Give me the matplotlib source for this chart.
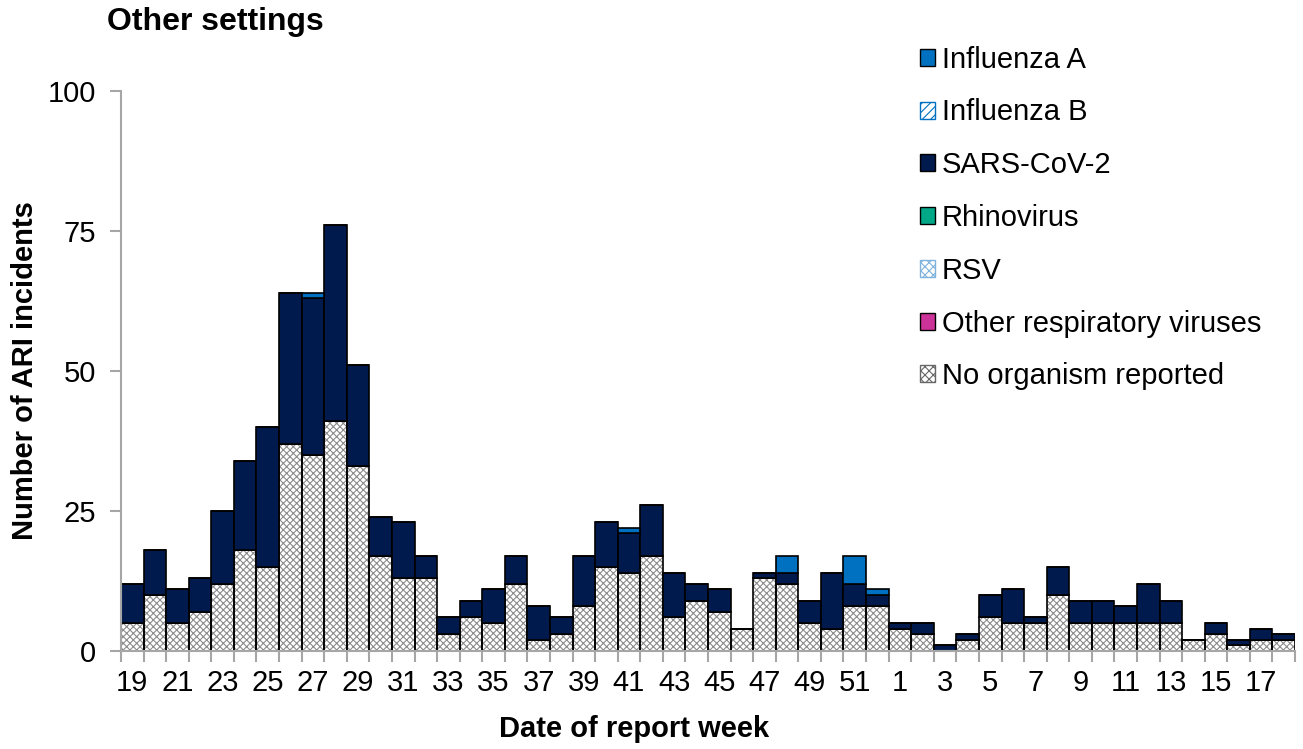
import matplotlib.pyplot as plt
from matplotlib.patches import Patch
import numpy as np

plt.rcParams['font.family'] = ['Liberation Sans', 'DejaVu Sans']
plt.rcParams['hatch.linewidth'] = 0.8

# report weeks 19..52 then 1..18
weeks = list(range(19, 53)) + list(range(1, 19))

no_organism = [5, 10, 5, 7, 12, 18, 15, 37, 35, 41, 33, 17, 13, 13, 3, 6, 5, 12, 2, 3,
               8, 15, 14, 17, 6, 9, 7, 4, 13, 12, 5, 4, 8, 8,
               4, 3, 0, 2, 6, 5, 5, 10, 5, 5, 5, 5, 5, 2, 3, 1, 2, 2]
other_resp = [0] * 52
rsv = [0] * 52
rhinovirus = [0] * 52
sars_cov2 = [7, 8, 6, 6, 13, 16, 25, 27, 28, 35, 18, 7, 10, 4, 3, 3, 6, 5, 6, 3,
             9, 8, 7, 9, 8, 3, 4, 0, 1, 2, 4, 10, 4, 2,
             1, 2, 1, 1, 4, 6, 1, 5, 4, 4, 3, 7, 4, 0, 2, 1, 2, 1]
influenza_b = [0] * 52
influenza_a = [0, 0, 0, 0, 0, 0, 0, 0, 1, 0, 0, 0, 0, 0, 0, 0, 0, 0, 0, 0,
               0, 0, 1, 0, 0, 0, 0, 0, 0, 3, 0, 0, 5, 1,
               0, 0, 0, 0, 0, 0, 0, 0, 0, 0, 0, 0, 0, 0, 0, 0, 0, 0]

x = np.arange(len(weeks))

fig = plt.figure(figsize=(13.03, 7.49), dpi=100)
ax = fig.add_axes([121/1303, 1-651/749, (1295-121)/1303, (651-91)/749])

bottom = np.zeros(len(weeks))

# no organism: white with grey checker pattern, black outline drawn on top
ax.bar(x, no_organism, 1.0, bottom=bottom, color='white', edgecolor='#8c8c8c',
       hatch='xxxxx', linewidth=0)
ax.bar(x, no_organism, 1.0, bottom=bottom, fill=False, edgecolor='black', linewidth=1.2)
bottom += no_organism

ax.bar(x, other_resp, 1.0, bottom=bottom, color='#CC3399', edgecolor='black', linewidth=1.2)
bottom += other_resp
ax.bar(x, rsv, 1.0, bottom=bottom, color='white', edgecolor='#9DC3E6', hatch='xxxxx', linewidth=0)
bottom += rsv
ax.bar(x, rhinovirus, 1.0, bottom=bottom, color='#00A888', edgecolor='black', linewidth=1.2)
bottom += rhinovirus
ax.bar(x, sars_cov2, 1.0, bottom=bottom, color='#001A4D', edgecolor='black', linewidth=1.2)
bottom += sars_cov2
ax.bar(x, influenza_b, 1.0, bottom=bottom, color='white', edgecolor='#0070C0', hatch='////', linewidth=0)
bottom += influenza_b
ax.bar(x, influenza_a, 1.0, bottom=bottom, color='#0070C0', edgecolor='black', linewidth=1.2)

ax.set_xlim(-0.5, len(weeks) - 0.5)
ax.set_ylim(0, 100)

for s in ['top', 'right']:
    ax.spines[s].set_visible(False)
for s in ['left', 'bottom']:
    ax.spines[s].set_color('#a6a6a6')
    ax.spines[s].set_linewidth(1.5)

ax.set_yticks([0, 25, 50, 75, 100])
ax.tick_params(axis='y', labelsize=21, length=8, width=1.5, color='#a6a6a6', pad=10)

# ticks at bar boundaries, labels at every other bar centre
ax.set_xticks(np.arange(len(weeks) + 1) - 0.5)
ax.set_xticklabels([])
ax.tick_params(axis='x', which='major', length=8, width=1.5, color='#a6a6a6')
ax.set_xticks(x[::2], minor=True)
ax.set_xticklabels([str(w) for w in weeks[::2]], minor=True)
ax.tick_params(axis='x', which='minor', length=0, labelsize=21, pad=13)

ax.set_xlabel('Date of report week', fontsize=21, fontweight='bold', va='center')
ax.xaxis.set_label_coords((634-121)/1174, (651-729)/560)
ax.set_ylabel('Number of ARI incidents', fontsize=21, fontweight='bold', va='center')
ax.yaxis.set_label_coords((25-121)/1174, (651-371)/560)

fig.text(107/1303, 1-22/749, 'Other settings', fontsize=23, fontweight='bold',
         ha='left', va='center')

handles = [
    Patch(facecolor='#0070C0', edgecolor='black', label='Influenza A'),
    Patch(facecolor='white', edgecolor='#0070C0', hatch='////', label='Influenza B'),
    Patch(facecolor='#001A4D', edgecolor='black', label='SARS-CoV-2'),
    Patch(facecolor='#00A888', edgecolor='black', label='Rhinovirus'),
    Patch(facecolor='white', edgecolor='#7fb2dd', hatch='xxxx', label='RSV'),
    Patch(facecolor='#CC3399', edgecolor='black', label='Other respiratory viruses'),
    Patch(facecolor='white', edgecolor='#666666', hatch='xxxx', label='No organism reported'),
]
fig.legend(handles=handles, loc='upper left', bbox_to_anchor=(905/1303, 1-31/749),
           frameon=False, fontsize=21, handlelength=0.52, handleheight=0.52,
           handletextpad=0.25, labelspacing=0.85, borderpad=0)

fig.savefig('out.png', dpi=100)
